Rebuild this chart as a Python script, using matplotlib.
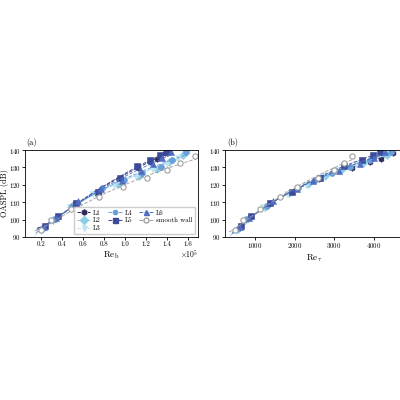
#!/usr/bin/env python3

import numpy as np
import matplotlib
matplotlib.use('Agg')
import matplotlib.pyplot as plt
import matplotlib.ticker as mticker

plt.rcParams['font.family'] = 'serif'
plt.rcParams['font.serif'] = ['cmr10', 'DejaVu Serif']
plt.rcParams['mathtext.fontset'] = 'cm'
plt.rcParams['axes.formatter.use_mathtext'] = True
plt.rcParams['axes.unicode_minus'] = False

names = ['L1', 'L2', 'L3', 'L4', 'L5', 'L6', 'smooth wall']

# bulk Reynolds number (x 1e5)
reb_L1 = [0.23, 0.35, 0.52, 0.75, 0.94, 1.12, 1.24, 1.30, 1.38]
reb_L2 = [0.21, 0.31, 0.49, 0.72, 0.93, 1.13, 1.30, 1.42, 1.55]
reb_L3 = [0.20, 0.30, 0.48, 0.70, 0.90, 1.10, 1.27, 1.40, 1.50]
reb_L4 = [0.22, 0.33, 0.50, 0.78, 0.99, 1.16, 1.34, 1.45, 1.58]
reb_L5 = [0.24, 0.36, 0.53, 0.74, 0.95, 1.11, 1.24, 1.33, 1.40]
reb_L6 = [0.23, 0.34, 0.55, 0.77, 0.97, 1.15, 1.27, 1.35, 1.44]
reb_sw = [0.20, 0.30, 0.49, 0.75, 0.98, 1.21, 1.40, 1.52, 1.67]

# friction Reynolds number
ret_L1 = [630, 870, 1390, 1940, 2620, 3450, 3900, 4190, 4480]
ret_L2 = [560, 740, 1240, 1870, 2330, 2760, 3200, 3750, 4350]
ret_L3 = [520, 720, 1210, 1800, 2300, 2720, 3100, 3560, 4000]
ret_L4 = [590, 800, 1300, 2100, 2520, 2940, 3400, 3900, 4450]
ret_L5 = [640, 910, 1380, 1930, 2640, 3260, 3700, 3980, 4150]
ret_L6 = [610, 850, 1450, 2060, 2470, 3120, 3650, 4000, 4300]
ret_sw = [494, 705, 1127, 1634, 2050, 2606, 2986, 3240, 3451]

# overall sound pressure level (dB)
spl_L1 = [96.0, 101.5, 109.5, 116.0, 123.5, 129.5, 133.0, 135.0, 138.5]
spl_L2 = [94.5, 99.5, 107.5, 115.5, 120.5, 125.0, 129.0, 133.0, 137.0]
spl_L3 = [93.5, 99.0, 107.0, 114.5, 120.0, 124.5, 128.5, 132.0, 135.5]
spl_L4 = [95.0, 100.5, 108.0, 118.0, 122.5, 126.5, 130.5, 134.5, 139.0]
spl_L5 = [96.5, 102.0, 109.5, 116.0, 124.0, 131.0, 134.0, 137.0, 139.0]
spl_L6 = [95.5, 101.0, 110.5, 117.5, 122.0, 128.0, 132.0, 135.5, 139.0]
spl_sw = [93.8, 99.6, 106.0, 113.0, 118.8, 123.7, 128.5, 132.3, 136.5]

reb = [reb_L1, reb_L2, reb_L3, reb_L4, reb_L5, reb_L6, reb_sw]
ret = [ret_L1, ret_L2, ret_L3, ret_L4, ret_L5, ret_L6, ret_sw]
spl = [spl_L1, spl_L2, spl_L3, spl_L4, spl_L5, spl_L6, spl_sw]

colors  = ['#2e2b5f', '#8ccfe6', '#bfe5f0', '#6a9fd8', '#3c4a99', '#4e6cc1', '#9e9e9e']
markers = ['h', 'D', 'v', '8', 's', '^', 'o']


def drawSeries(ax, x, y, c, m, label):
    x = np.array(x, dtype=float)
    y = np.array(y, dtype=float)
    # log fit, drawn dashed a bit below the first point
    p = np.polyfit(np.log(x), y, 2)
    xf = np.linspace(x.min()*0.7, x.max(), 100)
    ax.plot(xf, np.polyval(p, np.log(xf)), ls='--', lw=0.7, color=c, alpha=0.9)
    if label == 'smooth wall':
        ax.plot(x, y, ls='none', marker=m, ms=3.8, mfc='white', mec=c, mew=0.8)
    else:
        ax.plot(x, y, ls='none', marker=m, ms=4.0, mfc=c, mec=c, mew=0.4)
    # legend proxy
    return ax.plot([], [], ls='--', lw=0.7, color=c, marker=m, ms=3.6,
                   mfc='white' if label == 'smooth wall' else c, mec=c,
                   label=label)[0]


fig = plt.figure(figsize=(4, 4), dpi=100)
axa = fig.add_axes([0.0625, 0.4075, 0.4325, 0.2175])
axb = fig.add_axes([0.5625, 0.4075, 0.4475, 0.2175])

handles = []
for i in range(len(names)):
    h = drawSeries(axa, np.array(reb[i])*1e5, spl[i], colors[i], markers[i], names[i])
    handles.append(h)
    drawSeries(axb, ret[i], spl[i], colors[i], markers[i], names[i])

for ax in [axa, axb]:
    ax.set_ylim([90, 140])
    ax.yaxis.set_major_locator(mticker.MultipleLocator(10))
    ax.tick_params(labelsize=5, length=2, width=0.6, pad=1)
    for s in ax.spines.values():
        s.set_linewidth(0.6)

axa.set_xlim([0.048e5, 1.695e5])
axa.xaxis.set_major_locator(mticker.MultipleLocator(0.2e5))
axa.xaxis.set_major_formatter(mticker.FuncFormatter(lambda v, pos: '%.1f' % (v/1e5)))
axa.text(1.0, -0.21, r'$\times10^{5}$', transform=axa.transAxes, fontsize=5.5,
         ha='right', va='center')
axa.set_xlabel(r'Re$_\mathrm{b}$', fontsize=6.5, labelpad=1.5)
axa.set_ylabel('OASPL (dB)', fontsize=6)
axa.yaxis.set_label_coords(-0.09, 0.5)

axb.set_xlim([240, 4770])
axb.xaxis.set_major_locator(mticker.MultipleLocator(1000))
axb.set_xlabel(r'Re$_\tau$', fontsize=6.5, labelpad=1.5)

axa.text(0.01, 1.03, '(a)', transform=axa.transAxes, fontsize=6, ha='left', va='bottom')
axb.text(0.01, 1.03, '(b)', transform=axb.transAxes, fontsize=6, ha='left', va='bottom')

axa.legend(handles=handles, loc='lower right', ncol=3, fontsize=5,
           handlelength=2.0, columnspacing=1.0, handletextpad=0.4,
           labelspacing=0.3, borderaxespad=0.4, framealpha=1.0,
           edgecolor='#cccccc', fancybox=True)

plt.savefig('out.png', dpi=100)
